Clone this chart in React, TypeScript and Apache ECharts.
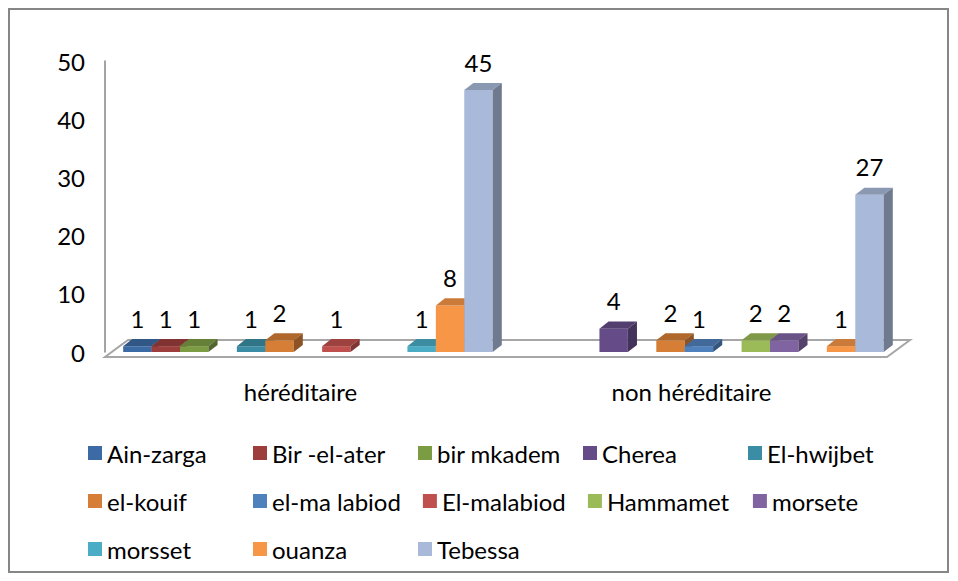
import React, { useEffect, useRef } from "react";
import * as echarts from "echarts";

const categories = ["héréditaire", "non héréditaire"];
const seriesNames = [
  "Ain-zarga", "Bir -el-ater", "bir mkadem", "Cherea", "El-hwijbet",
  "el-kouif", "el-ma labiod", "El-malabiod", "Hammamet", "morsete",
  "morsset", "ouanza", "Tebessa",
];
const hereditaire: (number | null)[] = [1, 1, 1, null, 1, 2, null, 1, null, null, 1, 8, 45];
const nonHereditaire: (number | null)[] = [null, null, null, 4, null, 2, 1, null, 2, 2, null, 1, 27];
const colors = [
  "#3C6AA4", "#9D3E3C", "#7C9C44", "#654C88", "#3A8DA5",
  "#D67E36", "#4F81BD", "#C0504D", "#9BBB59", "#8064A2",
  "#4BACC6", "#F79646", "#A9B9D9",
];
const yMin = 0;
const yMax = 50;
const yInterval = 10;

const FONT = "Lato, 'Liberation Sans', sans-serif";
const FS = 24;

function shade(hex: string, f: number) {
  const n = parseInt(hex.slice(1), 16);
  const r = Math.round(((n >> 16) & 255) * f);
  const g = Math.round(((n >> 8) & 255) * f);
  const b = Math.round((n & 255) * f);
  return `rgb(${r},${g},${b})`;
}

export default function App() {
  const ref = useRef<HTMLDivElement>(null);
  useEffect(() => {
    document.body.style.margin = "0";
    const chart = echarts.init(ref.current!, null, { renderer: "svg" });
    const n = seriesNames.length;

    const barSeries = seriesNames.map((name, i) => {
      const data: number[][] = [];
      [hereditaire[i], nonHereditaire[i]].forEach((v, c) => {
        if (v !== null) data.push([c, v]);
      });
      const color = colors[i];
      return {
        type: "custom",
        name,
        itemStyle: { color },
        data,
        renderItem: (_p: any, api: any) => {
          const cat = api.value(0);
          const v = api.value(1);
          const base = api.coord([cat, 0]);
          const top = api.coord([cat, v]);
          const cw = api.size([1, 0])[0];
          const bw = cw * 0.0727;
          const group = bw * n;
          const shift = cw * 0.019;
          const x = base[0] - group / 2 + i * bw + shift;
          const y0 = base[1];
          const y1 = top[1];
          const dx = bw * 0.32;
          const dy = -bw * 0.25;
          return {
            type: "group",
            children: [
              {
                type: "rect",
                shape: { x, y: y1, width: bw, height: y0 - y1 },
                style: { fill: color },
              },
              {
                type: "polygon",
                shape: { points: [[x, y1], [x + bw, y1], [x + bw + dx, y1 + dy], [x + dx, y1 + dy]] },
                style: { fill: shade(color, 0.82) },
              },
              {
                type: "polygon",
                shape: { points: [[x + bw, y1], [x + bw + dx, y1 + dy], [x + bw + dx, y0 + dy], [x + bw, y0]] },
                style: { fill: shade(color, 0.66) },
              },
              {
                type: "text",
                x: x + bw / 2,
                y: y1 - 28,
                style: {
                  text: String(v),
                  fill: "#000",
                  fontSize: FS,
                  fontFamily: FONT,
                  align: "center",
                  verticalAlign: "middle",
                },
              },
            ],
          };
        },
      };
    });

    const floorSeries = {
      type: "custom",
      name: "floor",
      silent: true,
      data: [[0, 0]],
      z: 1,
      renderItem: (_p: any, api: any) => {
        const c0 = api.coord([0, 0]);
        const c1 = api.coord([categories.length - 1, 0]);
        const cw = api.size([1, 0])[0];
        const fl = c0[0] - cw / 2;
        const fr = c1[0] + cw / 2;
        const fy = c0[1] + 5;
        const bdx = 23;
        const bdy = -17;
        return {
          type: "polygon",
          shape: { points: [[fl, fy], [fr, fy], [fr + bdx, fy + bdy], [fl + bdx, fy + bdy]] },
          style: { fill: "#ffffff", stroke: "#A6A6A6", lineWidth: 2 },
        };
      },
    };

    chart.setOption({
      animation: false,
      backgroundColor: "#ffffff",
      graphic: [
        {
          type: "rect",
          shape: { x: 9, y: 9, width: 939, height: 563 },
          style: { fill: "none", stroke: "#868686", lineWidth: 2 },
          silent: true,
        },
      ],
      grid: { left: 105, right: 71, top: 61, bottom: 229, containLabel: false },
      xAxis: {
        type: "category",
        data: categories,
        axisLine: { show: false },
        axisTick: { show: false },
        axisLabel: { margin: 27, fontSize: FS, fontFamily: FONT, color: "#000" },
      },
      yAxis: {
        type: "value",
        min: yMin,
        max: yMax,
        interval: yInterval,
        splitLine: { show: false },
        axisTick: { show: false },
        axisLine: { show: true, lineStyle: { color: "#868686", width: 1.5 } },
        axisLabel: { margin: 20, fontSize: FS, fontFamily: FONT, color: "#000" },
      },
      legend: {
        data: seriesNames,
        left: 88,
        top: 440,
        padding: 0,
        width: 820,
        icon: "rect",
        itemWidth: 14,
        itemHeight: 14,
        itemGap: 22,
        textStyle: {
          fontSize: FS,
          fontFamily: FONT,
          color: "#000",
          width: 124,
          lineHeight: 26,
          overflow: "none",
        },
      },
      series: [floorSeries, ...barSeries],
    });
    return () => chart.dispose();
  }, []);
  return <div ref={ref} style={{ width: 958, height: 581 }} />;
}
